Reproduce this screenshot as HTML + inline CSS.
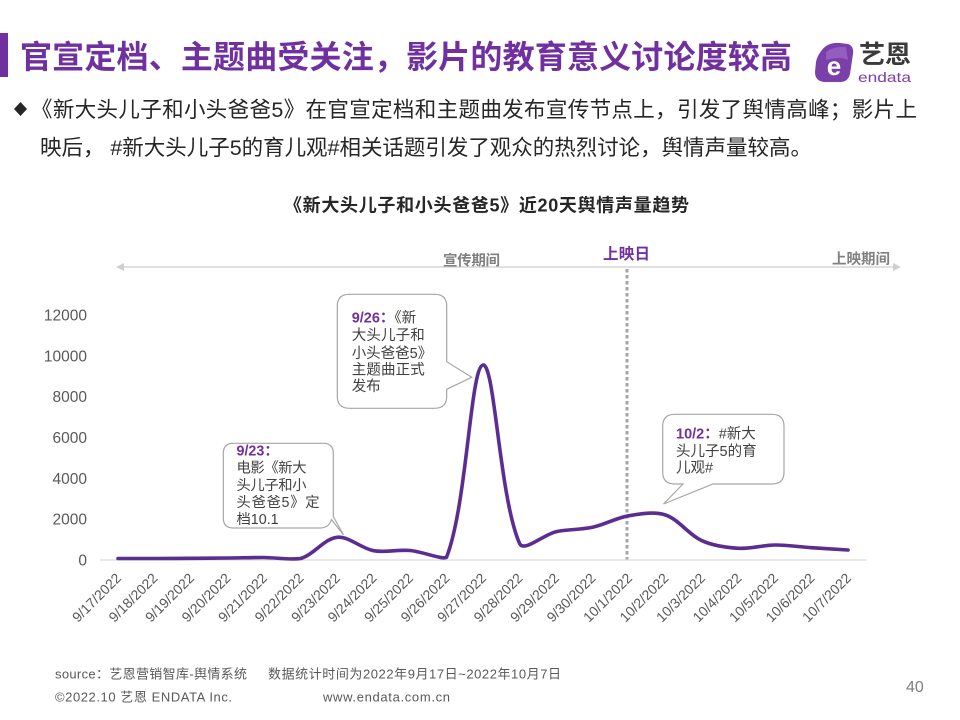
<!DOCTYPE html>
<html><head><meta charset="utf-8"><style>
html,body{margin:0;padding:0;background:#fff;}
svg{display:block;}
text{font-family:"Liberation Sans","Noto Sans CJK SC",sans-serif;}
</style></head><body>
<svg width="960" height="720" viewBox="0 0 960 720" xmlns="http://www.w3.org/2000/svg">
<rect width="960" height="720" fill="#fff"/>
<!-- title -->
<rect x="0" y="33" width="8" height="44" fill="#7030a0"/>
<text x="20" y="68" font-size="32" font-weight="bold" fill="#7030a0" textLength="772" lengthAdjust="spacing">官宣定档、主题曲受关注，影片的教育意义讨论度较高</text>
<!-- logo -->
<g>
<path d="M822,50 Q828,42 840,43 L848,44 Q854,46 853,54 L850,74 Q848,82 840,82 L824,82 Q815,81 815,72 L816,62 Q817,56 822,50 Z" fill="#7a3fa8"/>
<path d="M826,52 Q834,46 846,47 L848,60 Q840,56 826,60 Z" fill="#9a66c4" opacity="0.8"/>
<text x="834" y="75" font-size="26" font-weight="bold" fill="#fff" text-anchor="middle">e</text>
<text x="859" y="63" font-size="25" font-weight="bold" fill="#3a3a3a" textLength="52" lengthAdjust="spacingAndGlyphs">艺恩</text>
<text x="858" y="82" font-size="14" fill="#7a3fa8" textLength="53" lengthAdjust="spacingAndGlyphs">endata</text>
</g>
<!-- bullet -->
<polygon points="20.5,102 27,109 20.5,116 14,109" fill="#262626"/>
<text x="31" y="117" font-size="21.5" fill="#262626" textLength="886" lengthAdjust="spacing">《新大头儿子和小头爸爸5》在官宣定档和主题曲发布宣传节点上，引发了舆情高峰；影片上</text>
<text x="40" y="155" font-size="21.5" fill="#262626" textLength="772" lengthAdjust="spacing">映后， #新大头儿子5的育儿观#相关话题引发了观众的热烈讨论，舆情声量较高。</text>
<!-- chart title -->
<text x="284" y="211.5" font-size="18" font-weight="bold" fill="#262626" textLength="405" lengthAdjust="spacing">《新大头儿子和小头爸爸5》近20天舆情声量趋势</text>
<!-- period arrow -->
<line x1="122" y1="267" x2="894" y2="267" stroke="#d6d6d6" stroke-width="1.5"/>
<polygon points="116,267 124,263 124,271" fill="#d0d0d0"/>
<polygon points="901,267 893,263 893,271" fill="#d0d0d0"/>
<text x="443" y="265.5" font-size="14.5" font-weight="bold" fill="#808080" textLength="57" lengthAdjust="spacing">宣传期间</text>
<text x="603" y="259" font-size="15.5" font-weight="bold" fill="#7030a0" textLength="47" lengthAdjust="spacing">上映日</text>
<text x="832" y="264" font-size="14.5" font-weight="bold" fill="#808080" textLength="58" lengthAdjust="spacing">上映期间</text>
<!-- dotted release line -->
<line x1="627" y1="269" x2="627" y2="560" stroke="#a6a6a6" stroke-width="3" stroke-dasharray="3.5 2.5"/>
<!-- axis -->
<line x1="100" y1="560" x2="867" y2="560" stroke="#d9d9d9" stroke-width="1.3"/>
<g font-size="15.5" fill="#595959" text-anchor="end">
<text x="87" y="565.5">0</text>
<text x="87" y="524.7">2000</text>
<text x="87" y="483.8">4000</text>
<text x="87" y="443">6000</text>
<text x="87" y="402.2">8000</text>
<text x="87" y="361.3">10000</text>
<text x="87" y="320.5">12000</text>
</g>
<g font-size="14" fill="#595959" text-anchor="end">
<text transform="translate(122,579) rotate(-45)">9/17/2022</text>
<text transform="translate(158.5,579) rotate(-45)">9/18/2022</text>
<text transform="translate(195,579) rotate(-45)">9/19/2022</text>
<text transform="translate(231.5,579) rotate(-45)">9/20/2022</text>
<text transform="translate(268,579) rotate(-45)">9/21/2022</text>
<text transform="translate(304.5,579) rotate(-45)">9/22/2022</text>
<text transform="translate(341,579) rotate(-45)">9/23/2022</text>
<text transform="translate(377.5,579) rotate(-45)">9/24/2022</text>
<text transform="translate(414,579) rotate(-45)">9/25/2022</text>
<text transform="translate(450.5,579) rotate(-45)">9/26/2022</text>
<text transform="translate(487,579) rotate(-45)">9/27/2022</text>
<text transform="translate(523.5,579) rotate(-45)">9/28/2022</text>
<text transform="translate(560,579) rotate(-45)">9/29/2022</text>
<text transform="translate(596.5,579) rotate(-45)">9/30/2022</text>
<text transform="translate(633,579) rotate(-45)">10/1/2022</text>
<text transform="translate(669.5,579) rotate(-45)">10/2/2022</text>
<text transform="translate(706,579) rotate(-45)">10/3/2022</text>
<text transform="translate(742.5,579) rotate(-45)">10/4/2022</text>
<text transform="translate(779,579) rotate(-45)">10/5/2022</text>
<text transform="translate(815.5,579) rotate(-45)">10/6/2022</text>
<text transform="translate(852,579) rotate(-45)">10/7/2022</text>
</g>
<!-- series -->
<path d="M118,558.5 C130.2,558.5 142.3,558.5 154.5,558.5 C166.7,558.5 178.8,558.4 191,558.3 C203.2,558.2 215.3,558.1 227.5,558 C239.7,557.9 252.7,557.4 264,557.5 C276.2,557.6 289.2,560 300.5,558.5 C313.6,554.9 324.3,538.7 337,537.3 C348.7,536.05 361,548.4 373.5,550.7 C385.3,552.8 397.9,549.4 410,550.5 C422.3,551.6 442.6,560 446.5,557.3 C467,505.3 470.4,367.4 483,365 C494.7,362.8 499.4,497.4 519.5,543.3 C523.7,553 543.6,534.4 556,531.7 C567.9,529.1 580.6,529.9 592.5,527.3 C604.9,524.6 616.5,517.8 629,515.7 C640.9,513.7 654.6,511.25 665.5,515 C678.9,519.6 688.7,534.65 702,540.7 C713.1,545.75 726.2,547.6 738.5,548.3 C750.6,549 762.8,545.1 775,545 C787.2,544.9 799.3,546.9 811.5,547.7 C823.7,548.5 841.9,549.6 848,550" fill="none" stroke="#5c2d91" stroke-width="3.6" stroke-linecap="round" stroke-linejoin="round"/>
<!-- callout 1 -->
<path d="M233.3,443.3 H323.3 Q333.3,443.3 333.3,453.3 V516.5 L343.5,535 L331.5,519.5 Q329,528 320,528 H233.3 Q223.3,528 223.3,518 V453.3 Q223.3,443.3 233.3,443.3 Z" fill="#fff" stroke="#a6a6a6" stroke-width="1.2"/>
<g font-size="14.3" fill="#404040">
<text x="236.5" y="455.5"><tspan font-weight="bold" fill="#7030a0">9/23：</tspan></text>
<text x="236.5" y="472.5" textLength="70" lengthAdjust="spacing">电影《新大</text>
<text x="236.5" y="490" textLength="70" lengthAdjust="spacing">头儿子和小</text>
<text x="236.5" y="507" textLength="83" lengthAdjust="spacing">头爸爸5》定</text>
<text x="236.5" y="524">档10.1</text>
</g>
<!-- callout 2 -->
<path d="M349.3,294.3 H434.7 Q446.7,294.3 446.7,306.3 V361.7 L471.7,377.3 L446.7,389.3 V396.3 Q446.7,408.3 434.7,408.3 H349.3 Q337.3,408.3 337.3,396.3 V306.3 Q337.3,294.3 349.3,294.3 Z" fill="#fff" stroke="#a6a6a6" stroke-width="1.2"/>
<g font-size="14.5" fill="#404040">
<text x="351.7" y="322.5"><tspan font-weight="bold" fill="#7030a0">9/26：</tspan>《新</text>
<text x="351.7" y="340.2" textLength="73" lengthAdjust="spacing">大头儿子和</text>
<text x="351.7" y="357.9">小头爸爸5》</text>
<text x="351.7" y="374.5" textLength="73" lengthAdjust="spacing">主题曲正式</text>
<text x="351.7" y="391.2">发布</text>
</g>
<!-- callout 3 -->
<path d="M674.7,414.3 H772 Q784,414.3 784,426.3 V472 Q784,484 772,484 H713 L663.5,504 L683,484 H674.7 Q662.7,484 662.7,472 V426.3 Q662.7,414.3 674.7,414.3 Z" fill="#fff" stroke="#a6a6a6" stroke-width="1.2"/>
<g font-size="14.5" fill="#404040">
<text x="676" y="438.5"><tspan font-weight="bold" fill="#7030a0">10/2：</tspan>#新大</text>
<text x="676" y="456">头儿子5的育</text>
<text x="676" y="472.5">儿观#</text>
</g>
<!-- footer -->
<g font-size="13" fill="#595959">
<text x="55" y="678.5" textLength="192" lengthAdjust="spacing">source：艺恩营销智库-舆情系统</text>
<text x="268" y="678.5" textLength="293" lengthAdjust="spacing">数据统计时间为2022年9月17日~2022年10月7日</text>
<text x="55" y="701.5" textLength="177" lengthAdjust="spacing">©2022.10 艺恩 ENDATA Inc.</text>
<text x="323" y="701.5" textLength="127" lengthAdjust="spacing">www.endata.com.cn</text>
</g>
<text x="906" y="692" font-size="16" fill="#7f7f7f">40</text>
</svg>
</body></html>
